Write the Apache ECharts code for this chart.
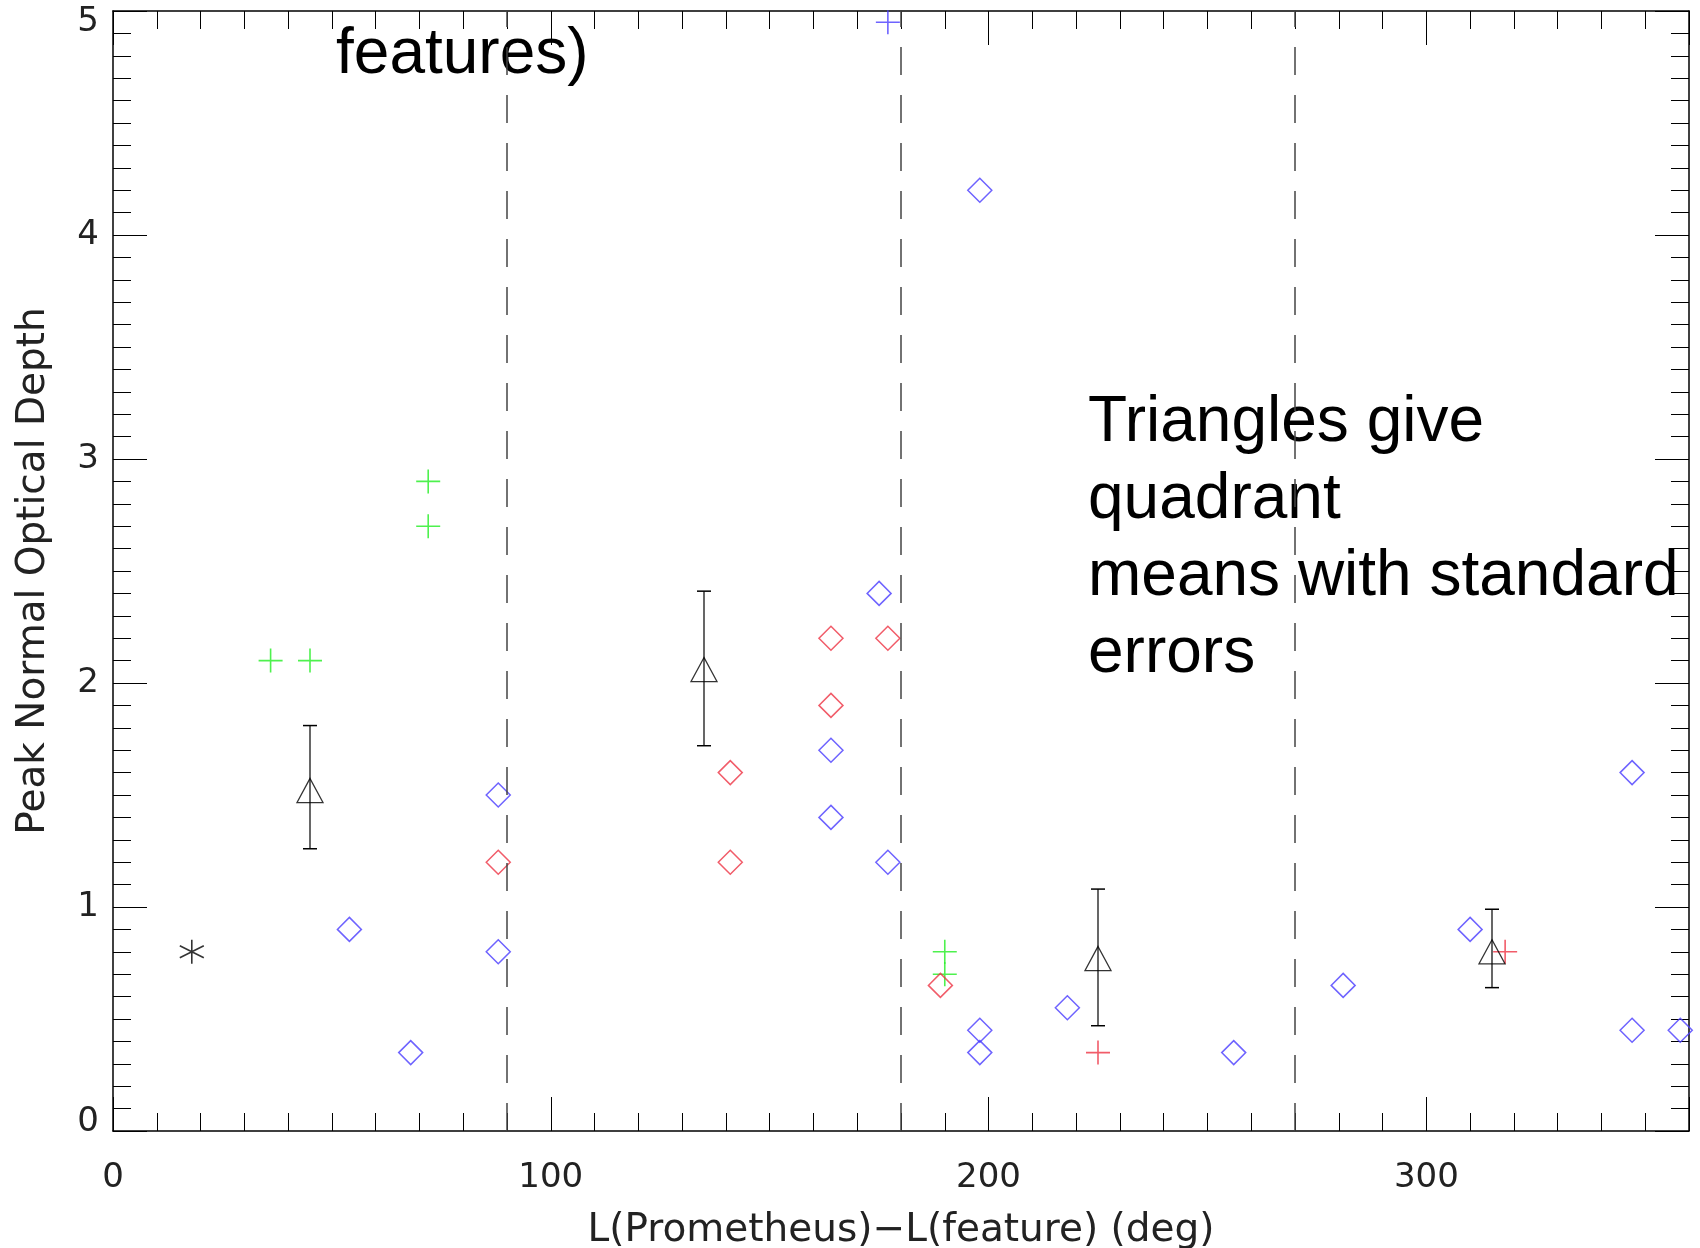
<!DOCTYPE html>
<html><head><meta charset="utf-8">
<script src="https://cdn.jsdelivr.net/npm/echarts@6/dist/echarts.min.js"></script>
<style>html,body{margin:0;background:#fff}#c{width:1700px;height:1248px}</style>
</head><body><div id="c"></div>
<script>
const asterisk=[[18,0.8]];
const greenPlus=[[36,2.1],[45,2.1],[72,2.9],[72,2.7],[190,0.8],[190,0.7]];
const bluePlus=[[177,4.95]];
const redPlus=[[225,0.35],[318,0.8]];
const blueDiamond=[[54,0.9],[68,0.35],[88,1.5],[88,0.8],[164,1.7],[164,1.4],[175,2.4],[177,1.2],[198,4.2],[198,0.45],[198,0.35],[218,0.55],[256,0.35],[281,0.65],[310,0.9],[347,1.6],[347,0.45],[358,0.45]];
const redDiamond=[[88,1.2],[141,1.6],[141,1.2],[164,2.2],[164,1.9],[177,2.2],[189,0.65]];
const triMeans=[[45,1.52,1.26,1.81],[135,2.06,1.72,2.41],[225,0.77,0.47,1.08],[315,0.8,0.64,0.99]];
const quadrantLines=[90,180,270];
const xTicks=[0,100,200,300];

const PLUS='path://M0,5L10,5M5,0L5,10';
const AST='path://M5,0L5,10M0,2.5L10,7.5M0,7.5L10,2.5';
const font='"DejaVu Sans","Liberation Sans",sans-serif';
function sc(data,sym,size,color,w){return {type:'scatter',data,symbol:sym,symbolSize:size,itemStyle:{color:'none',borderColor:color,borderWidth:w},z:3};}
const chart=echarts.init(document.getElementById('c'));
const axisCommon={axisLine:{onZero:false,lineStyle:{color:'#000',width:1.5}},splitLine:{show:false}};
const tk={axisTick:{inside:true,length:34,lineStyle:{color:'#000'}},minorTick:{show:true,splitNumber:10,length:18,lineStyle:{color:'#000'}}};
const lab={fontSize:34,fontFamily:font,color:'#222'};
chart.setOption({
 animation:false,
 grid:{left:113,right:11,top:11,bottom:117,outerBoundsMode:'none',containLabel:false},
 xAxis:[{type:'value',min:0,max:360,interval:100,...axisCommon,...tk,
   axisLabel:{...lab,margin:30,formatter:v=>xTicks.includes(v)?String(v):''},
   name:'L(Prometheus)−L(feature) (deg)',nameLocation:'middle',nameGap:80,nameTextStyle:{fontSize:39,fontFamily:font,color:'#222'}},
  {type:'value',position:'top',min:0,max:360,interval:100,...axisCommon,...tk,axisLabel:{show:false}}],
 yAxis:[{type:'value',min:0,max:5,interval:1,...axisCommon,...tk,
   axisLabel:{...lab,margin:14,formatter:v=>v===5?'{t|5}':v===0?'{b|0}':String(v),
     rich:{t:{...lab,padding:[22,0,0,0]},b:{...lab,padding:[0,0,18,0]}}},
   name:'Peak Normal Optical Depth',nameLocation:'middle',nameGap:60,nameTextStyle:{fontSize:39,fontFamily:font,color:'#222'}},
  {type:'value',position:'right',min:0,max:5,interval:1,...axisCommon,...tk,axisLabel:{show:false}}],
 series:[
  {type:'line',data:[],markLine:{silent:true,symbol:'none',label:{show:false},lineStyle:{color:'#444',type:[28,20],width:1.5},data:quadrantLines.map(v=>({xAxis:v}))}},
  sc(greenPlus,PLUS,24,'#22ee22',1.6),
  sc(bluePlus,PLUS,24,'#4a3cff',1.6),
  sc(redPlus,PLUS,24,'#ee3344',1.6),
  sc(blueDiamond,'diamond',[24,24],'#4a3cff',1.5),
  sc(redDiamond,'diamond',[24,24],'#ee3344',1.5),
  sc(asterisk,AST,24,'#000',1.6),
  {type:'custom',data:triMeans,z:4,renderItem:(p,api)=>{
    const x=api.value(0),lo=api.coord([x,api.value(2)]),hi=api.coord([x,api.value(3)]);
    return {type:'group',children:[
     {type:'line',shape:{x1:lo[0],y1:lo[1],x2:hi[0],y2:hi[1]},style:{stroke:'#000',lineWidth:1.2}},
     {type:'line',shape:{x1:lo[0]-7,y1:lo[1],x2:lo[0]+7,y2:lo[1]},style:{stroke:'#000',lineWidth:1.5}},
     {type:'line',shape:{x1:hi[0]-7,y1:hi[1],x2:hi[0]+7,y2:hi[1]},style:{stroke:'#000',lineWidth:1.5}}]};}},
  sc(triMeans.map(d=>[d[0],d[1]]),'triangle',[26,24],'#000',1.3)
 ],
 graphic:[
  {type:'text',left:336,top:23,style:{text:'features)',font:'64px "Liberation Sans",Arial',fill:'#000'}},
  {type:'text',left:1088,top:385,style:{text:'Triangles give\nquadrant\nmeans with standard\nerrors',font:'64px "Liberation Sans",Arial',fill:'#000',lineHeight:77}}
 ]
});
</script></body></html>
